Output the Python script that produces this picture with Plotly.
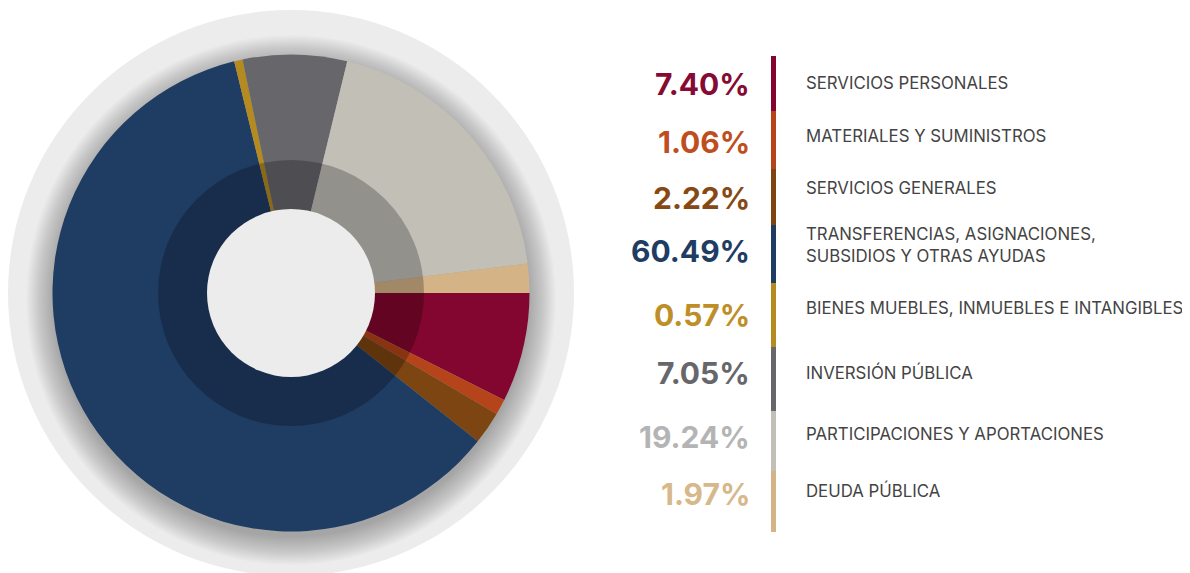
import plotly.graph_objects as go

# ---------------- data ----------------
categories = [
    "SERVICIOS PERSONALES",
    "MATERIALES Y SUMINISTROS",
    "SERVICIOS GENERALES",
    "TRANSFERENCIAS, ASIGNACIONES,<br>SUBSIDIOS Y OTRAS AYUDAS",
    "BIENES MUEBLES, INMUEBLES E INTANGIBLES",
    "INVERSIÓN PÚBLICA",
    "PARTICIPACIONES Y APORTACIONES",
    "DEUDA PÚBLICA",
]
values = [7.40, 1.06, 2.22, 60.49, 0.57, 7.05, 19.24, 1.97]
pct_labels = ["7.40%", "1.06%", "2.22%", "60.49%", "0.57%", "7.05%", "19.24%", "1.97%"]

# ---------------- styles ----------------
slice_colors = ["#82062F", "#B5441A", "#7D4512", "#1F3C63",
                "#B58A1E", "#67666B", "#C2BFB7", "#D4B386"]
pct_colors = ["#860A33", "#BE4E1E", "#874914", "#1F3C63",
              "#BE8E28", "#67666B", "#B4B4B4", "#D6B88B"]

OFF = 8                     # page body margin
W, H = 1190 - OFF, 573 - OFF
CX, CY = 291, 293           # pie centre in window pixels (from top)
R = 238.5                   # pie radius
R_BG = 283                  # background disc
R_DARK = 133                # darkened inner ring
R_HOLE = 84                 # centre hole

def px(x):
    return (x - OFF) / W

def py(y):
    return 1 - (y - OFF) / H

fig = go.Figure()
fig.add_trace(go.Pie(
    values=values,
    labels=[c.replace("<br>", " ") for c in categories],
    marker=dict(colors=slice_colors, line=dict(width=0)),
    sort=False,
    direction="clockwise",
    rotation=90,
    textinfo="none",
    hoverinfo="label+percent",
    showlegend=False,
    domain=dict(x=[px(CX - R), px(CX + R)], y=[py(CY + R), py(CY - R)]),
))

shapes = []

def circle(cx, cy, r, fill, layer):
    return dict(type="circle", xref="paper", yref="paper",
                x0=px(cx - r), x1=px(cx + r), y0=py(cy + r), y1=py(cy - r),
                fillcolor=fill, line=dict(width=0), layer=layer)

# background disc
shapes.append(circle(CX, CY, R_BG, "#ECECEC", "below"))
# soft drop shadow
for k in range(16):
    shapes.append(circle(CX, CY + 7, R + 26 - k * 1.8, "rgba(0,0,0,0.021)", "below"))
# darkened inner ring + hole
shapes.append(circle(CX, CY, R_DARK, "rgba(0,0,0,0.24)", "above"))
shapes.append(circle(CX, CY, R_HOLE, "#ECECEC", "above"))

# legend colour bar segments
seg_edges = [56, 111, 169, 225, 283, 347, 411, 471, 532]
for i, col in enumerate(slice_colors):
    shapes.append(dict(type="rect", xref="paper", yref="paper",
                       x0=px(771), x1=px(776),
                       y0=py(seg_edges[i + 1]), y1=py(seg_edges[i]),
                       fillcolor=col, line=dict(width=0), layer="above"))

annotations = []
pct_y = [84, 142, 198, 251, 315, 373, 437, 494]
lab_y = [83, 136, 188, 245, 308, 372, 434, 490]
for i in range(len(values)):
    annotations.append(dict(
        x=px(752), y=py(pct_y[i]), xref="paper", yref="paper",
        xanchor="right", yanchor="middle", showarrow=False,
        text=f"<b>{pct_labels[i]}</b>",
        font=dict(family="Inter, Open Sans, sans-serif", size=30, color=pct_colors[i]),
    ))
    annotations.append(dict(
        x=px(804), y=py(lab_y[i]), xref="paper", yref="paper",
        xanchor="left", yanchor="middle", showarrow=False, align="left",
        text=categories[i],
        font=dict(family="Inter, Open Sans, sans-serif", size=16.8, color="#444444"),
    ))

fig.update_layout(
    width=W, height=H,
    margin=dict(l=0, r=0, t=0, b=0),
    paper_bgcolor="white",
    plot_bgcolor="white",
    shapes=shapes,
    annotations=annotations,
)

fig.write_html("out.html")
